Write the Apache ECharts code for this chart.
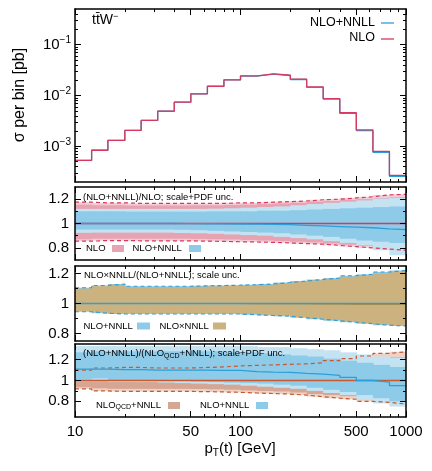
<!DOCTYPE html>
<html><head><meta charset="utf-8">
<script src="https://cdn.jsdelivr.net/npm/echarts@6/dist/echarts.min.js"></script>
<style>html,body{margin:0;padding:0;background:#fff}#c{width:432px;height:471px}</style>
</head><body><div id="c"></div>
<script>
// ---------- data ----------
const BIN_EDGES = [10, 12.6, 15.8, 20, 25.1, 31.6, 39.8, 50.1, 63.1, 79.4, 100, 126, 158, 200, 251, 316, 398, 501, 631, 794, 1000];
const X_MAJOR_TICKS = [10, 50, 100, 500, 1000];
const X_MINOR_TICKS = [20, 30, 40, 60, 70, 80, 90, 200, 300, 400, 600, 700, 800, 900];
const Y_LOG_MAJOR_TICKS = [0.001, 0.01, 0.1];
const Y_LOG_MINOR_TICKS = [0.0003, 0.0004, 0.0005, 0.0006, 0.0007, 0.0008, 0.0009, 0.002, 0.003, 0.004, 0.005, 0.006, 0.007, 0.008, 0.009, 0.02, 0.03, 0.04, 0.05, 0.06, 0.07, 0.08, 0.09, 0.2, 0.3, 0.4];
const Y_RATIO_MAJOR_TICKS = [0.8, 1, 1.2];
const Y_RATIO_MINOR_TICKS = [0.9, 1.1];

// top panel: sigma per bin [pb]
const SIG_NLO = [5.3e-4, 8.4e-4, 1.31e-3, 2.06e-3, 3.24e-3, 4.92e-3, 7.4e-3, 1.08e-2, 1.52e-2, 2.03e-2, 2.43e-2, 2.66e-2, 2.5e-2, 2.09e-2, 1.48e-2, 8.7e-3, 4.58e-3, 2.12e-3, 8.0e-4, 2.7e-4];
const SIG_NLO_NNLL = [5.3e-4, 8.4e-4, 1.31e-3, 2.06e-3, 3.24e-3, 4.91e-3, 7.38e-3, 1.077e-2, 1.515e-2, 2.02e-2, 2.41e-2, 2.63e-2, 2.47e-2, 2.06e-2, 1.45e-2, 8.5e-3, 4.45e-3, 2.05e-3, 7.65e-4, 2.57e-4];

// panel 2: (NLO+NNLL)/NLO ; scale+PDF
const P2_NLO_CENTRAL = [1,1,1,1,1,1,1,1,1,1,1,1,1,1,1,1,1,1,1,1];
const P2_NNLL_CENTRAL = [1.0,1.0,1.0,1.0,1.0,1.0,0.999,0.998,0.997,0.996,0.995,0.993,0.99,0.985,0.98,0.975,0.97,0.965,0.955,0.95];
const P2_NLO_UP_OUT = [1.175,1.17,1.17,1.165,1.165,1.165,1.165,1.165,1.165,1.17,1.17,1.175,1.18,1.185,1.195,1.2,1.21,1.22,1.235,1.24];
const P2_NLO_UP_IN  = [1.155,1.15,1.15,1.148,1.148,1.148,1.148,1.15,1.15,1.152,1.155,1.16,1.165,1.17,1.18,1.185,1.195,1.2,1.21,1.215];
const P2_NLO_LO_IN  = [0.87,0.875,0.875,0.875,0.875,0.875,0.875,0.872,0.87,0.868,0.865,0.86,0.855,0.85,0.845,0.835,0.825,0.815,0.805,0.8];
const P2_NLO_LO_OUT = [0.855,0.86,0.86,0.858,0.858,0.858,0.857,0.855,0.853,0.85,0.848,0.845,0.84,0.835,0.83,0.82,0.81,0.8,0.79,0.78];
const P2_NNLL_UP_OUT = [1.12,1.12,1.12,1.12,1.12,1.12,1.12,1.12,1.122,1.125,1.13,1.135,1.14,1.15,1.16,1.17,1.18,1.19,1.205,1.21];
const P2_NNLL_UP_IN  = [1.1,1.1,1.1,1.098,1.098,1.098,1.098,1.098,1.1,1.1,1.1,1.105,1.105,1.11,1.115,1.12,1.125,1.13,1.135,1.14];
const P2_NNLL_LO_IN  = [0.95,0.95,0.95,0.95,0.95,0.95,0.948,0.945,0.94,0.935,0.93,0.925,0.92,0.91,0.9,0.89,0.875,0.86,0.85,0.84];
const P2_NNLL_LO_OUT = [0.923,0.925,0.925,0.925,0.925,0.925,0.922,0.92,0.915,0.91,0.905,0.9,0.89,0.88,0.87,0.855,0.84,0.82,0.78,0.74];

// panel 3: NLOxNNLL/(NLO+NNLL) ; scale
const P3_NNLL_CENTRAL = [1,1,1,1,1,1,1,1,1,1,1,1,1,1,1,1,1,1,1,1];
const P3_NXN_CENTRAL = [1,1,1,1,1,1,1,1,1,1,0.999,0.999,0.998,0.998,0.997,0.997,0.996,0.996,0.995,0.995];
const P3_NNLL_UP = [1.105,1.12,1.13,1.115,1.115,1.115,1.115,1.118,1.12,1.122,1.125,1.13,1.14,1.15,1.16,1.17,1.185,1.195,1.21,1.22];
const P3_NNLL_LO = [0.945,0.935,0.93,0.93,0.93,0.93,0.93,0.93,0.93,0.93,0.925,0.92,0.915,0.905,0.895,0.885,0.875,0.865,0.855,0.85];
const P3_NXN_UP = [1.1,1.115,1.125,1.11,1.11,1.11,1.11,1.113,1.115,1.117,1.12,1.125,1.135,1.145,1.155,1.165,1.178,1.188,1.2,1.21];
const P3_NXN_LO = [0.95,0.94,0.935,0.935,0.935,0.935,0.935,0.935,0.935,0.935,0.93,0.925,0.92,0.91,0.9,0.89,0.88,0.87,0.86,0.855];

// panel 4: (NLO+NNLL)/(NLO_QCD+NNLL) ; scale+PDF
const P4_QCD_CENTRAL = [1,1,1,1,1,1,1,1,1,1,1,1,1,1,1,1,1,1,1,1];
const P4_NNLL_CENTRAL = [1.11,1.11,1.105,1.105,1.1,1.1,1.1,1.1,1.098,1.097,1.085,1.08,1.078,1.068,1.062,1.05,1.03,1.0,0.985,0.95];
const P4_QCD_UP_OUT = [1.1,1.12,1.125,1.125,1.12,1.12,1.12,1.125,1.13,1.14,1.145,1.15,1.155,1.16,1.17,1.19,1.21,1.235,1.26,1.275];
const P4_QCD_UP_IN  = [1.08,1.095,1.1,1.1,1.1,1.1,1.1,1.1,1.105,1.11,1.115,1.12,1.125,1.13,1.14,1.155,1.17,1.19,1.21,1.225];
const P4_QCD_LO_IN  = [0.935,0.925,0.92,0.92,0.92,0.92,0.92,0.918,0.915,0.912,0.905,0.9,0.895,0.885,0.87,0.86,0.85,0.835,0.825,0.81];
const P4_QCD_LO_OUT = [0.92,0.9,0.895,0.895,0.895,0.895,0.895,0.893,0.89,0.887,0.88,0.875,0.87,0.86,0.845,0.83,0.82,0.8,0.79,0.775];
const P4_NNLL_UP_OUT = [1.33,1.33,1.33,1.33,1.33,1.33,1.33,1.33,1.33,1.33,1.33,1.32,1.32,1.31,1.3,1.29,1.27,1.25,1.23,1.22];
const P4_NNLL_UP_IN  = [1.27,1.28,1.28,1.28,1.28,1.28,1.28,1.28,1.28,1.27,1.27,1.26,1.25,1.24,1.23,1.21,1.19,1.17,1.15,1.13];
const P4_NNLL_LO_IN  = [1.01,1.02,1.0,1.0,1.0,1.0,0.995,0.99,0.985,0.98,0.975,0.97,0.96,0.95,0.93,0.91,0.89,0.86,0.83,0.8];
const P4_NNLL_LO_OUT = [0.99,0.99,0.985,0.985,0.985,0.98,0.975,0.97,0.965,0.96,0.95,0.94,0.93,0.92,0.9,0.88,0.86,0.82,0.78,0.75];

// ---------- styling ----------
const FONT = 'Liberation Sans, Arial, Helvetica, sans-serif';
const C = {
  red: '#d8375f', blue: '#2c9fd9',
  pinkIn: '#e7a3b2', pinkOut: '#f3cdd6',
  blueIn: '#8ecbe8', blueOut: '#c3e3f3',
  tan: '#cbb27e', tanLine: '#9c8442',
  brownIn: '#d4a693', brownOut: '#ecd2c7', brownLine: '#c8582e'
};
const GRIDS = [
  {left: 75, width: 331, top: 9, height: 173},
  {left: 75, width: 331, top: 187, height: 73},
  {left: 75, width: 331, top: 266, height: 75},
  {left: 75, width: 331, top: 344, height: 73}
];
const Y_RANGES = [[2e-4, 0.5], [0.7, 1.3], [0.75, 1.25], [0.65, 1.35]];

const xAxes = [], yAxes = [];
const lineSt = {color: '#000', width: 1.5};
GRIDS.forEach((g, gi) => {
  const base = {gridIndex: gi, type: 'log', logBase: 10, min: 10, max: 1000, z: 10, splitLine: {show: false}, silent: true};
  xAxes.push(Object.assign({}, base, {position: 'bottom', axisLine: {show: true, lineStyle: lineSt},
    axisTick: {show: true, inside: true, length: 6, customValues: X_MAJOR_TICKS, lineStyle: {color: '#000', width: 1}},
    axisLabel: {show: gi === 3, customValues: X_MAJOR_TICKS, margin: 7, fontSize: 15, fontFamily: FONT, color: '#000',
      formatter: v => String(Math.round(v))}}));
  xAxes.push(Object.assign({}, base, {position: 'bottom', axisLine: {show: false},
    axisTick: {show: true, inside: true, length: 3, customValues: X_MINOR_TICKS, lineStyle: {color: '#000', width: 1}},
    axisLabel: {show: false}}));
  xAxes.push(Object.assign({}, base, {position: 'top', axisLine: {show: true, lineStyle: lineSt},
    axisTick: {show: true, inside: true, length: 6, customValues: X_MAJOR_TICKS, lineStyle: {color: '#000', width: 1}},
    axisLabel: {show: false}}));
  xAxes.push(Object.assign({}, base, {position: 'top', axisLine: {show: false},
    axisTick: {show: true, inside: true, length: 3, customValues: X_MINOR_TICKS, lineStyle: {color: '#000', width: 1}},
    axisLabel: {show: false}}));

  const isLog = gi === 0;
  const ybase = {gridIndex: gi, type: isLog ? 'log' : 'value', min: Y_RANGES[gi][0], max: Y_RANGES[gi][1], z: 10, splitLine: {show: false}, silent: true};
  if (isLog) ybase.logBase = 10;
  const maj = isLog ? Y_LOG_MAJOR_TICKS : Y_RATIO_MAJOR_TICKS;
  const min = isLog ? Y_LOG_MINOR_TICKS : Y_RATIO_MINOR_TICKS;
  const labelOpt = isLog ? {
      show: true, customValues: maj, margin: 4, color: '#000', fontFamily: FONT,
      formatter: v => '{b|10}{s|\u2212' + Math.round(-Math.log10(v)) + '}',
      rich: {b: {fontSize: 15, fontFamily: FONT, color: '#000', lineHeight: 18}, s: {fontSize: 10, fontFamily: FONT, color: '#000', verticalAlign: 'top', lineHeight: 10}}
    } : {show: true, customValues: maj, margin: 6, fontSize: 15, color: '#000', fontFamily: FONT, formatter: v => String(+v.toFixed(1))};
  yAxes.push(Object.assign({}, ybase, {position: 'left', axisLine: {show: true, lineStyle: lineSt},
    axisTick: {show: true, inside: true, length: 6, customValues: maj, lineStyle: {color: '#000', width: 1}}, axisLabel: labelOpt}));
  yAxes.push(Object.assign({}, ybase, {position: 'left', axisLine: {show: false},
    axisTick: {show: true, inside: true, length: 3, customValues: min, lineStyle: {color: '#000', width: 1}}, axisLabel: {show: false}}));
  yAxes.push(Object.assign({}, ybase, {position: 'right', axisLine: {show: true, lineStyle: lineSt},
    axisTick: {show: true, inside: true, length: 6, customValues: maj, lineStyle: {color: '#000', width: 1}}, axisLabel: {show: false}}));
  yAxes.push(Object.assign({}, ybase, {position: 'right', axisLine: {show: false},
    axisTick: {show: true, inside: true, length: 3, customValues: min, lineStyle: {color: '#000', width: 1}}, axisLabel: {show: false}}));
});

function stepData(vals) {
  const d = vals.map((v, i) => [BIN_EDGES[i], v]);
  d.push([BIN_EDGES[BIN_EDGES.length - 1], vals[vals.length - 1]]);
  return d;
}
function stepLine(gi, vals, color, width, dashed, z) {
  return {type: 'line', step: 'end', xAxisIndex: gi * 4, yAxisIndex: gi * 4, data: stepData(vals), symbol: 'none',
    lineStyle: {color: color, width: width, type: dashed ? [4, 3] : 'solid'}, z: z, silent: true, clip: true};
}
function band(gi, lo, hi, color, z) {
  return {
    type: 'custom', xAxisIndex: gi * 4, yAxisIndex: gi * 4, z: z, silent: true,
    data: lo.map((l, i) => [BIN_EDGES[i], BIN_EDGES[i + 1], l, hi[i]]),
    encode: {x: [0, 1], y: [2, 3]},
    renderItem: (params, api) => {
      const p0 = api.coord([api.value(0), api.value(3)]);
      const p1 = api.coord([api.value(1), api.value(2)]);
      const cs = params.coordSys;
      const shape = echarts.graphic.clipRectByRect(
        {x: p0[0], y: p0[1], width: p1[0] - p0[0] + 0.7, height: p1[1] - p0[1]},
        {x: cs.x, y: cs.y, width: cs.width, height: cs.height});
      return shape ? {type: 'rect', shape: shape, style: {fill: color}} : null;
    }
  };
}

const series = [
  stepLine(0, SIG_NLO_NNLL, C.blue, 1.3, false, 5),
  stepLine(0, SIG_NLO, C.red, 1.3, false, 6),

  band(1, P2_NLO_LO_OUT, P2_NLO_UP_OUT, C.pinkOut, 1),
  band(1, P2_NLO_LO_IN, P2_NLO_UP_IN, C.pinkIn, 2),
  band(1, P2_NNLL_LO_OUT, P2_NNLL_UP_OUT, C.blueOut, 3),
  band(1, P2_NNLL_LO_IN, P2_NNLL_UP_IN, C.blueIn, 4),
  stepLine(1, P2_NLO_UP_OUT, C.red, 1.2, true, 5),
  stepLine(1, P2_NLO_LO_OUT, C.red, 1.2, true, 5),
  stepLine(1, P2_NLO_CENTRAL, C.red, 1.3, false, 6),
  stepLine(1, P2_NNLL_CENTRAL, C.blue, 1.3, false, 7),

  band(2, P3_NNLL_LO, P3_NNLL_UP, C.blueIn, 1),
  band(2, P3_NXN_LO, P3_NXN_UP, C.tan, 2),
  stepLine(2, P3_NNLL_UP, C.blue, 1.2, true, 5),
  stepLine(2, P3_NNLL_LO, C.blue, 1.2, true, 5),
  stepLine(2, P3_NNLL_CENTRAL, C.blue, 1.3, false, 6),
  stepLine(2, P3_NXN_CENTRAL, C.tanLine, 1.1, false, 7),

  band(3, P4_QCD_LO_OUT, P4_QCD_UP_OUT, C.brownOut, 1),
  band(3, P4_QCD_LO_IN, P4_QCD_UP_IN, C.brownIn, 2),
  band(3, P4_NNLL_LO_OUT, P4_NNLL_UP_OUT, C.blueOut, 3),
  band(3, P4_NNLL_LO_IN, P4_NNLL_UP_IN, C.blueIn, 4),
  stepLine(3, P4_QCD_UP_OUT, C.brownLine, 1.2, true, 5),
  stepLine(3, P4_QCD_LO_OUT, C.brownLine, 1.2, true, 5),
  stepLine(3, P4_QCD_CENTRAL, C.brownLine, 1.3, false, 6),
  stepLine(3, P4_NNLL_CENTRAL, C.blue, 1.3, false, 7)
];

function txt(x, y, text, size, extra) {
  return Object.assign({type: 'text', x: x, y: y, z: 100, silent: true,
    style: Object.assign({text: text, fontSize: size, fontFamily: FONT, fill: '#000', align: 'left', verticalAlign: 'middle'}, extra || {})});
}
function sw(x, y, w, h, color) {
  return {type: 'rect', z: 100, silent: true, shape: {x: x, y: y, width: w, height: h}, style: {fill: color}};
}
function seg(x1, x2, y, color) {
  return {type: 'line', z: 100, silent: true, shape: {x1: x1, y1: y, x2: x2, y2: y}, style: {stroke: color, lineWidth: 1.3}};
}
const SMALL = 9.5;
const subRich = {q: {fontSize: 7, fontFamily: FONT, fill: '#000', verticalAlign: 'bottom', lineHeight: 8}, n: {fontSize: SMALL, fontFamily: FONT, fill: '#000', lineHeight: 12}};

const graphics = [
  // top panel
  txt(92, 20, '{a|tt\u0304W}{s|\u2212}', 14, {rich: {a: {fontSize: 14, fontFamily: FONT, fill: '#000', lineHeight: 16}, s: {fontSize: 9, fontFamily: FONT, fill: '#000', verticalAlign: 'top', lineHeight: 9}}}),
  txt(375, 23, 'NLO+NNLL', 12.5, {align: 'right'}),
  seg(381, 394, 23, C.blue),
  txt(375, 38, 'NLO', 12.5, {align: 'right'}),
  seg(381, 394, 39, C.red),
  // axis titles
  {type: 'text', x: 20, y: 95, rotation: Math.PI / 2, z: 100, silent: true,
   style: {text: '\u03c3 per bin [pb]', fontSize: 16, fontFamily: FONT, fill: '#000', align: 'center', verticalAlign: 'middle'}},
  txt(240, 449, '{n|p}{q|T}{n|(t) [GeV]}', 15, {align: 'center',
    rich: {n: {fontSize: 15, fontFamily: FONT, fill: '#000', lineHeight: 18}, q: {fontSize: 10, fontFamily: FONT, fill: '#000', verticalAlign: 'bottom', lineHeight: 12}}}),
  // panel 2
  txt(83, 197, '(NLO+NNLL)/NLO; scale+PDF unc.', SMALL),
  txt(86, 248.5, 'NLO', SMALL),
  sw(112, 245, 12, 7, C.pinkIn),
  txt(132.5, 248.5, 'NLO+NNLL', SMALL),
  sw(189, 245, 12, 7, C.blueIn),
  // panel 3
  txt(84, 275, 'NLO\u00d7NNLL/(NLO+NNLL); scale unc.', SMALL),
  txt(83.5, 326, 'NLO+NNLL', SMALL),
  sw(137, 322.5, 13, 7, C.blueIn),
  txt(159.5, 326, 'NLO\u00d7NNLL', SMALL),
  sw(213, 322.5, 13, 7, C.tan),
  // panel 4
  txt(83, 353.5, '{n|(NLO+NNLL)/(NLO}{q|QCD}{n|+NNLL); scale+PDF unc.}', SMALL, {rich: subRich}),
  txt(96, 405, '{n|NLO}{q|QCD}{n|+NNLL}', SMALL, {rich: subRich}),
  sw(168, 402, 12, 7, C.brownIn),
  txt(200, 405, 'NLO+NNLL', SMALL),
  sw(256, 402, 12, 7, C.blueIn)
];

const chart = echarts.init(document.getElementById('c'), null, {renderer: 'canvas'});
chart.setOption({
  animation: false,
  backgroundColor: '#fff',
  grid: GRIDS,
  xAxis: xAxes,
  yAxis: yAxes,
  series: series,
  graphic: graphics
});
</script>
</body></html>
